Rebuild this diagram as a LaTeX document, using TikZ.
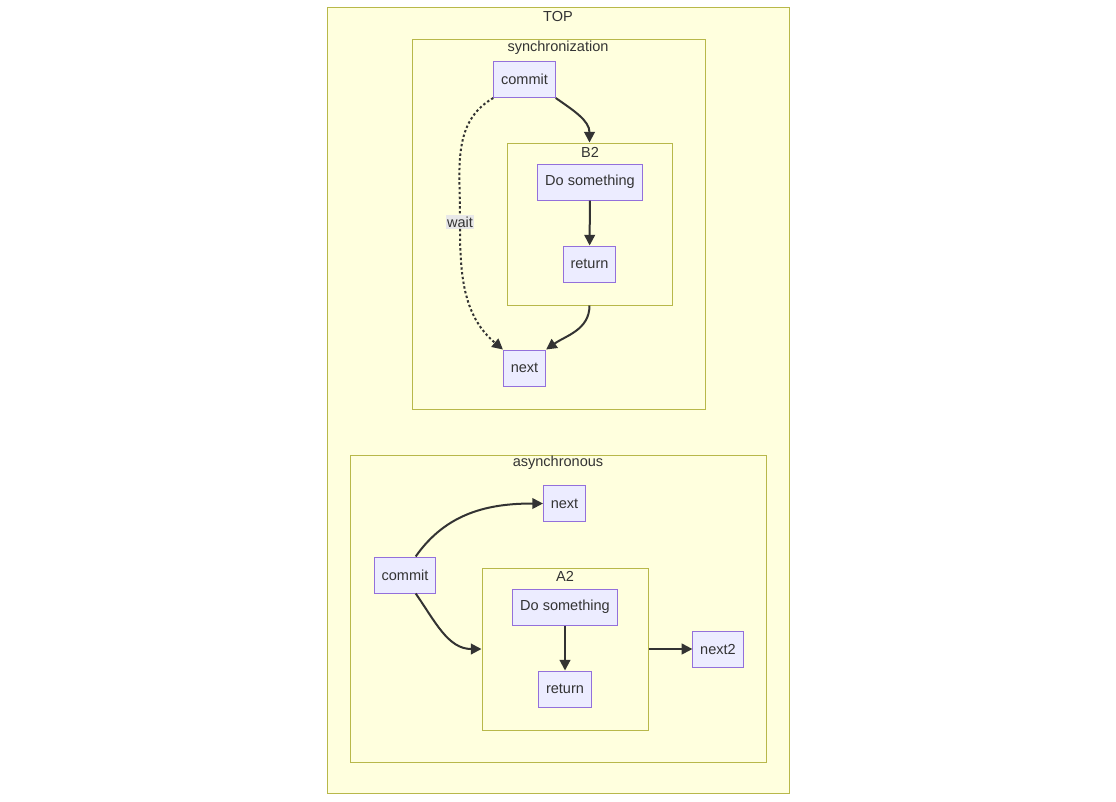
\documentclass[tikz,border=0pt]{standalone}
\usepackage{fontspec}
\setmainfont{Liberation Sans}
\usepackage{xcolor}
\usetikzlibrary{positioning,arrows.meta,fit}

\definecolor{clusterbg}{HTML}{FFFFDE}
\definecolor{clusterline}{HTML}{B8B84A}
\definecolor{boxbg}{HTML}{ECECFF}
\definecolor{boxline}{HTML}{9370DB}
\definecolor{edgegray}{HTML}{333333}
\definecolor{labelbg}{HTML}{E8E8E8}

\begin{document}
\begin{tikzpicture}[x=0.75pt,y=0.75pt,
        every node/.style={font=\fontsize{10.9}{13}\selectfont, text=edgegray},
        cluster/.style={draw=clusterline, fill=clusterbg, line width=0.75pt, inner sep=0pt},
        box/.style={draw=boxline, fill=boxbg, line width=0.75pt, inner xsep=5.5pt, minimum height=27pt},
        edge/.style={draw=edgegray, line width=1.5pt, -{Triangle[length=8pt,width=8pt]}},
        dottededge/.style={edge, dash pattern=on 1.8pt off 1.8pt},
        edgelabel/.style={fill=labelbg, inner sep=1pt}]
        \useasboundingbox (0,0) rectangle (1116,-801);

        % Clusters
        \node[cluster, fit={(327,-7) (789,-793)}] (top) {};
        \node at (558,-16) (toplbl) {TOP};
        \node[cluster, fit={(412,-39) (705,-409)}] (sync) {};
        \node at (558,-48) (synclbl) {synchronization};
        \node[cluster, fit={(507,-143) (672,-305)}] (b2) {};
        \node at (590,-152) (b2lbl) {B2};
        \node[cluster, fit={(350,-455) (766,-762)}] (async) {};
        \node at (558,-463) (asynclbl) {asynchronous};
        \node[cluster, fit={(482,-568) (648,-730)}] (a2) {};
        \node at (565,-576) (a2lbl) {A2};

        % Synchronization
        \node[box] (csync) at (524.5,-79.5) {commit};
        \node[box] (dsync) at (590,-182) {Do something};
        \node[box] (rsync) at (589.5,-264) {return};
        \node[box] (nsync) at (524.5,-368) {next};
        \node[edgelabel] (wait) at (460,-222) {wait};

        \draw[edge] (csync.south east) to[out=-35,in=90] (b2.north);
        \draw[edge] (dsync) -- (rsync);
        \draw[edge] (b2.south) to[out=-90,in=35] (nsync.north east);
        \draw[dottededge] (csync.south west) to[out=-150,in=90] (wait.north)
            (wait.south) to[out=-90,in=140] (nsync.north west);

        % Asynchronous
        \node[box] (casync) at (405,-575) {commit};
        \node[box] (nasync) at (564.5,-503.5) {next};
        \node[box] (dasync) at (565,-607) {Do something};
        \node[box] (rasync) at (565,-689) {return};
        \node[box] (next2) at (718,-649) {next2};

        \draw[edge] (casync.60) to[out=55,in=180] (nasync.west);
        \draw[edge] (casync.-60) to[out=-55,in=180] (a2.west);
        \draw[edge] (dasync) -- (rasync);
        \draw[edge] (a2.east) -- (next2.west);
    \end{tikzpicture}
\end{document}
